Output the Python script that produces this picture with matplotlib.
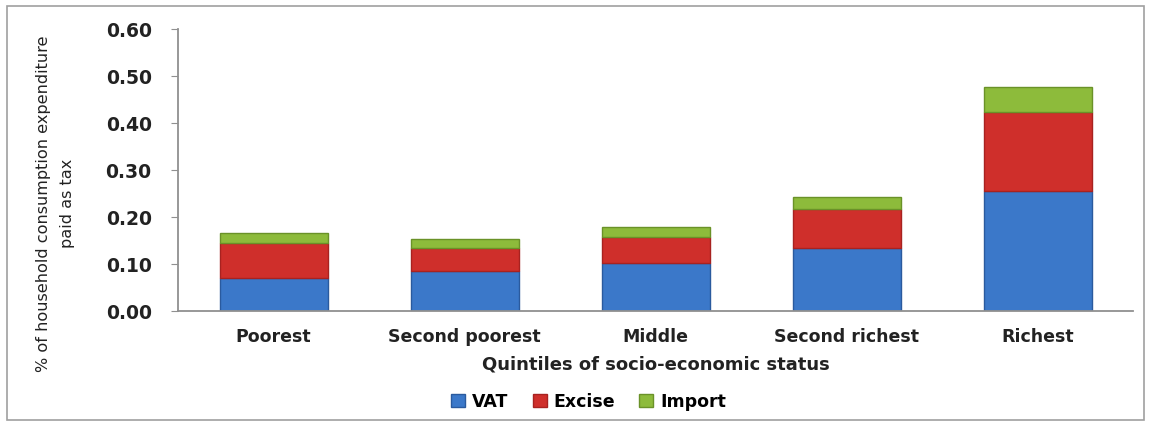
import numpy as np
import matplotlib.pyplot as plt
from matplotlib.patches import Rectangle

categories = ["Poorest", "Second poorest", "Middle", "Second richest", "Richest"]
vat = [0.070, 0.085, 0.102, 0.134, 0.255]
excise = [0.075, 0.049, 0.055, 0.083, 0.168]
imports = [0.021, 0.019, 0.022, 0.026, 0.053]
yticks = [0.0, 0.1, 0.2, 0.3, 0.4, 0.5, 0.6]

colors = {"VAT": "#3b78c9", "Excise": "#cf2f2b", "Import": "#8dbb3b"}
edges = {"VAT": "#2a5a9e", "Excise": "#a82220", "Import": "#6a9228"}

fig = plt.figure(figsize=(11.51, 4.24), dpi=100)
fig.patches.append(Rectangle((0.006, 0.01), 0.988, 0.975, transform=fig.transFigure,
                             fill=False, edgecolor="#a0a0a0", linewidth=1.2))
ax = fig.add_axes([0.1547, 0.2665, 0.8297, 0.665])

x = np.arange(len(categories))
w = 0.565
bottom = np.zeros(len(categories))
for name, vals in [("VAT", vat), ("Excise", excise), ("Import", imports)]:
    ax.bar(x, vals, w, bottom=bottom, color=colors[name], edgecolor=edges[name],
           linewidth=1.0, label=name)
    bottom += np.array(vals)

ax.set_xlim(-0.5, len(categories) - 0.5)
ax.set_ylim(0, 0.6)
ax.set_yticks(yticks)
ax.set_yticklabels(["%.2f" % t for t in yticks], fontsize=13.5, fontweight="bold", color="#222222")
ax.set_xticks(x)
ax.set_xticklabels(categories, fontsize=12.5, fontweight="bold", color="#222222")
ax.tick_params(axis="x", length=0, pad=12)
ax.tick_params(axis="y", length=5, color="#909090", direction="out", pad=14)
for s in ["top", "right"]:
    ax.spines[s].set_visible(False)
for s in ["left", "bottom"]:
    ax.spines[s].set_color("#909090")
    ax.spines[s].set_linewidth(1.3)

ax.set_xlabel("Quintiles of socio-economic status", fontsize=13, fontweight="semibold",
              color="#222222", labelpad=7)
fig.text(0.048, 0.52, "% of household consumption expenditure\npaid as tax", rotation=90,
         ha="center", va="center", fontsize=11.6, family="DejaVu Sans",
         linespacing=1.75, color="#222222")

ax.legend(loc="upper center", bbox_to_anchor=(0.43, -0.235), ncol=3, frameon=False,
          prop={"size": 12.5, "weight": "semibold"}, handlelength=0.8, handleheight=0.8,
          handletextpad=0.4, columnspacing=1.4)

fig.savefig("out.png", dpi=100)
